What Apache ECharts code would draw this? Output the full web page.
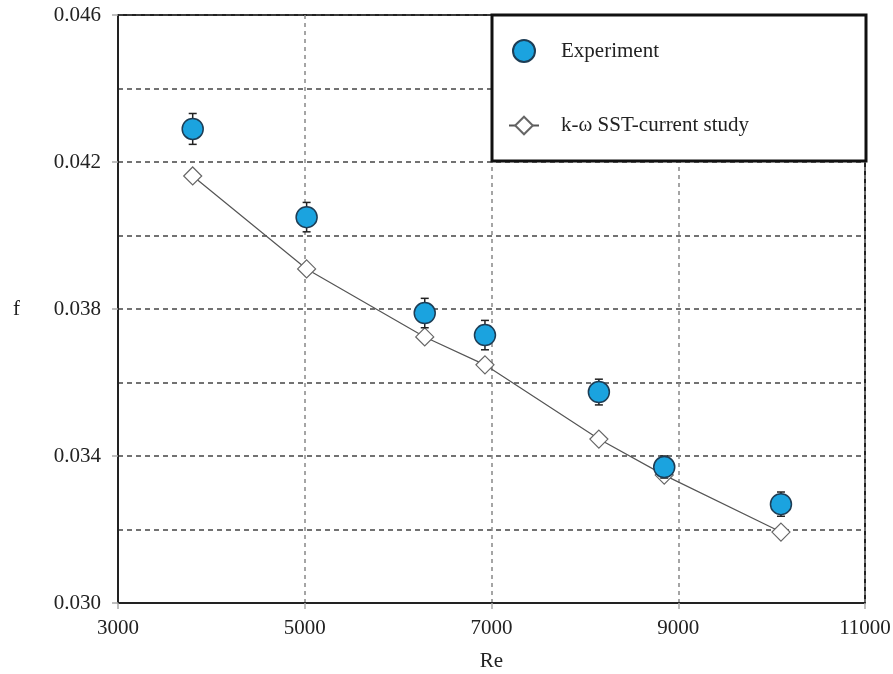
<!DOCTYPE html>
<html>
<head>
<meta charset="utf-8">
<script src="https://cdn.jsdelivr.net/npm/echarts@6/dist/echarts.min.js"></script>
<style>html,body{margin:0;padding:0;background:#fff}#c{width:893px;height:674px}</style>
</head>
<body>
<div id="c"></div>
<script>
var reValues = [3800, 5020, 6285, 6930, 8150, 8850, 10100];
var expF = [0.0429, 0.0405, 0.03789, 0.03729, 0.03574, 0.0337, 0.03269];
var expErr = [0.00042, 0.0004, 0.0004, 0.0004, 0.00035, 0.0003, 0.00033];
var simF = [0.04162, 0.03909, 0.03724, 0.03648, 0.03446, 0.03348, 0.03193];
var xTicks = [3000, 5000, 7000, 9000, 11000];
var yTicks = [0.030, 0.034, 0.038, 0.042, 0.046];

var font = 'Liberation Serif';
var fs = 21;
var chart = echarts.init(document.getElementById('c'));
var expData = reValues.map(function (r, i) { return [r, expF[i]]; });
var simData = reValues.map(function (r, i) { return [r, simF[i]]; });
var errData = reValues.map(function (r, i) { return [r, expF[i] - expErr[i], expF[i] + expErr[i]]; });

chart.setOption({
  animation: false,
  backgroundColor: '#fff',
  grid: { left: 118, right: 28, top: 15, bottom: 71, show: true, borderColor: '#222', borderWidth: 2, backgroundColor: 'transparent', containLabel: false, outerBoundsMode: 'none' },
  xAxis: {
    type: 'value', min: xTicks[0], max: xTicks[xTicks.length - 1], interval: 2000,
    name: 'Re', nameLocation: 'middle', nameGap: 48,
    nameTextStyle: { fontFamily: font, fontSize: fs, color: '#222' },
    axisLine: { show: true, lineStyle: { color: '#222', width: 2 } },
    axisTick: { show: true, length: 6, lineStyle: { color: '#aaa', width: 1.5 } },
    axisLabel: { fontFamily: font, fontSize: fs, color: '#222', margin: 15, formatter: function (v) { return String(v); } },
    splitLine: { show: true, lineStyle: { color: '#888', type: [4, 4], width: 1.5 } }
  },
  yAxis: [{
    type: 'value', min: yTicks[0], max: yTicks[yTicks.length - 1], interval: 0.004,
    name: 'f', nameLocation: 'middle', nameGap: 98, nameRotate: 0,
    nameTextStyle: { fontFamily: font, fontSize: fs, color: '#222' },
    axisLine: { show: true, lineStyle: { color: '#222', width: 2 } },
    axisTick: { show: true, length: 6, lineStyle: { color: '#aaa', width: 1.5 } },
    axisLabel: { fontFamily: font, fontSize: fs, color: '#222', margin: 17, formatter: function (v) { return v.toFixed(3); } },
    splitLine: { show: false }
  }, {
    type: 'value', min: yTicks[0], max: yTicks[yTicks.length - 1], interval: 0.002, position: 'left',
    axisLine: { show: false }, axisTick: { show: false }, axisLabel: { show: false },
    splitLine: { show: true, lineStyle: { color: '#444', type: [5, 4], width: 1.5 } }
  }],
  legend: {
    orient: 'vertical', left: 503, top: 34, itemGap: 52, itemWidth: 30, itemHeight: 22,
    z: 10,
    textStyle: { fontFamily: font, fontSize: fs, color: '#222', padding: [0, 0, 0, 17] },
    data: ['Experiment', 'k-ω SST-current study']
  },
  graphic: [{
    type: 'rect', z: 5, zlevel: 0,
    shape: { x: 492, y: 15, width: 374, height: 146 },
    style: { fill: '#fff', stroke: '#111', lineWidth: 3 }
  }],
  series: [{
    name: 'k-ω SST-current study', type: 'line', data: simData,
    symbol: 'diamond', symbolSize: 18, showSymbol: true,
    lineStyle: { color: '#555', width: 1.2 },
    itemStyle: { color: '#fff', borderColor: '#666', borderWidth: 1.2 },
    z: 3
  }, {
    name: 'err', type: 'custom', data: errData, z: 4,
    renderItem: function (params, api) {
      var x = api.value(0);
      var lo = api.coord([x, api.value(1)]);
      var hi = api.coord([x, api.value(2)]);
      var w = 4;
      var st = { stroke: '#222', lineWidth: 1.5 };
      return { type: 'group', children: [
        { type: 'line', shape: { x1: lo[0], y1: lo[1], x2: hi[0], y2: hi[1] }, style: st },
        { type: 'line', shape: { x1: lo[0] - w, y1: lo[1], x2: lo[0] + w, y2: lo[1] }, style: st },
        { type: 'line', shape: { x1: hi[0] - w, y1: hi[1], x2: hi[0] + w, y2: hi[1] }, style: st }
      ]};
    }
  }, {
    name: 'Experiment', type: 'scatter', data: expData,
    symbol: 'circle', symbolSize: 21,
    itemStyle: { color: '#1ba3df', borderColor: '#1d3d55', borderWidth: 1.5, opacity: 1 },
    z: 5
  }]
});
</script>
</body>
</html>
